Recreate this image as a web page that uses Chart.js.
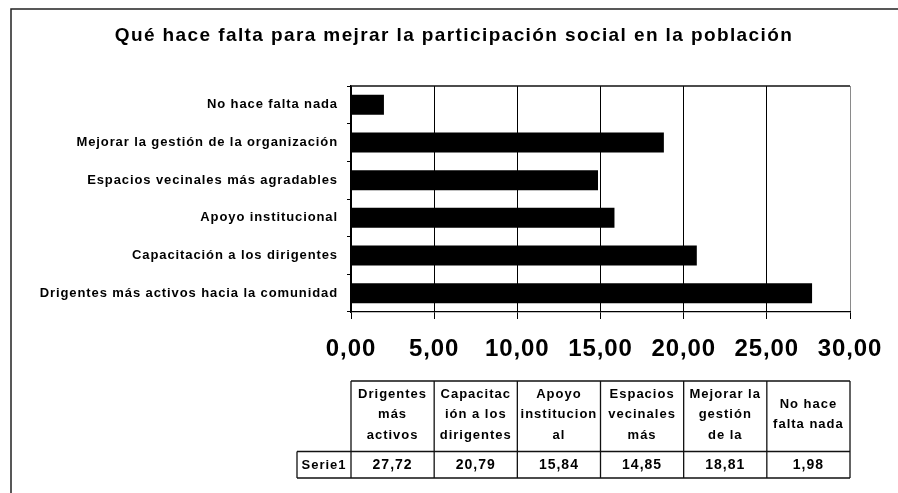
<!DOCTYPE html>
<html>
<head>
<meta charset="utf-8">
<script src="https://cdn.jsdelivr.net/npm/chart.js@4.4.1/dist/chart.umd.min.js"></script>
<style>
  html, body { margin: 0; padding: 0; background: #fff; }
  #wrap { width: 898px; height: 493px; }
</style>
</head>
<body>
<div id="wrap"><canvas id="c" width="898" height="493"></canvas></div>
<script>
const titleText = 'Qué hace falta para mejrar la participación social en la población';
const categories = [
  'Drigentes más activos hacia la comunidad',
  'Capacitación a los dirigentes',
  'Apoyo institucional',
  'Espacios vecinales más agradables',
  'Mejorar la gestión de la organización',
  'No hace falta nada'
];
const seriesName = 'Serie1';
const values = [27.72, 20.79, 15.84, 14.85, 18.81, 1.98];
const xTickLabels = ['0,00', '5,00', '10,00', '15,00', '20,00', '25,00', '30,00'];
const tableHeaders = [
  ['Drigentes', 'más', 'activos'],
  ['Capacitac', 'ión a los', 'dirigentes'],
  ['Apoyo', 'institucion', 'al'],
  ['Espacios', 'vecinales', 'más'],
  ['Mejorar la', 'gestión', 'de la'],
  ['No hace', 'falta nada']
];

const FONT = 'Arial, "Liberation Sans", sans-serif';
const fmt = v => v.toFixed(2).replace('.', ',');

const decor = {
  id: 'decor',
  beforeDraw(chart) {
    const ctx = chart.ctx;
    ctx.save();
    ctx.fillStyle = '#fff';
    ctx.fillRect(0, 0, chart.width, chart.height);
    ctx.strokeStyle = '#222';
    ctx.lineWidth = 1.5;
    ctx.beginPath();
    ctx.moveTo(11, chart.height);
    ctx.lineTo(11, 9);
    ctx.lineTo(chart.width, 9);
    ctx.stroke();
    ctx.fillStyle = '#000';
    ctx.font = 'bold 19px ' + FONT;
    ctx.letterSpacing = '1.4px';
    ctx.textAlign = 'center';
    ctx.textBaseline = 'middle';
    ctx.fillText(titleText, 454, 36);
    ctx.restore();
    ctx.letterSpacing = '0.9px';
  },
  afterDraw(chart) {
    const ctx = chart.ctx;
    const { left, right, top } = chart.chartArea;
    ctx.save();
    ctx.strokeStyle = '#111';
    ctx.lineWidth = 1.3;
    ctx.beginPath();
    ctx.moveTo(left, top);
    ctx.lineTo(right, top);
    ctx.stroke();

    const n = values.length;
    const colW = (right - left) / n;
    const hTop = 381, hBot = 451.5, vBot = 478, sLeft = 297;
    ctx.beginPath();
    ctx.moveTo(left, hTop); ctx.lineTo(right, hTop);
    ctx.moveTo(sLeft, hBot); ctx.lineTo(right, hBot);
    ctx.moveTo(sLeft, vBot); ctx.lineTo(right, vBot);
    ctx.moveTo(sLeft, hBot); ctx.lineTo(sLeft, vBot);
    for (let i = 0; i <= n; i++) {
      const x = left + i * colW;
      ctx.moveTo(x, hTop); ctx.lineTo(x, vBot);
    }
    ctx.stroke();

    ctx.fillStyle = '#000';
    ctx.textAlign = 'center';
    ctx.textBaseline = 'middle';
    ctx.font = 'bold 13px ' + FONT;
    ctx.letterSpacing = '1px';
    const lh = 20.5;
    tableHeaders.forEach((lines, i) => {
      const cx = left + (i + 0.5) * colW;
      const cy = 414.5;
      lines.forEach((t, j) => {
        ctx.fillText(t, cx, cy + (j - (lines.length - 1) / 2) * lh);
      });
    });
    ctx.fillText(seriesName, (sLeft + left) / 2, 465.5);
    ctx.font = 'bold 14px ' + FONT;
    values.forEach((v, i) => {
      ctx.fillText(fmt(v), left + (i + 0.5) * colW, 465.5);
    });
    ctx.restore();
  }
};

new Chart(document.getElementById('c'), {
  type: 'bar',
  data: {
    labels: categories,
    datasets: [{
      label: seriesName,
      data: values,
      backgroundColor: '#000',
      borderWidth: 0,
      barPercentage: 0.53,
      categoryPercentage: 1.0
    }]
  },
  options: {
    indexAxis: 'y',
    responsive: false,
    animation: false,
    devicePixelRatio: 1,
    layout: { padding: { top: 86, right: 48, bottom: 121, left: 0 } },
    plugins: {
      legend: { display: false },
      title: { display: false },
      tooltip: { enabled: false }
    },
    scales: {
      x: {
        min: 0,
        max: 30,
        ticks: {
          stepSize: 5,
          padding: 16,
          color: '#000',
          font: { family: FONT, size: 24, weight: 'bold', lineHeight: 1.2 },
          callback: (v, i) => xTickLabels[i]
        },
        grid: {
          color: c => (c.index === 6 ? '#8a8a8a' : '#000'),
          lineWidth: 1,
          tickLength: 7,
          tickColor: '#000'
        },
        border: { display: true, color: '#000', width: 1.3 },
        afterFit: s => { s.height = 60; }
      },
      y: {
        reverse: true,
        ticks: {
          padding: 9,
          color: '#000',
          font: { family: FONT, size: 13, weight: 'bold' }
        },
        grid: {
          offset: true,
          drawOnChartArea: false,
          drawTicks: true,
          tickLength: 4,
          color: '#000'
        },
        border: { display: true, color: '#000', width: 1.3 },
        afterFit: s => { s.width = 351; }
      }
    }
  },
  plugins: [decor]
});
</script>
</body>
</html>
